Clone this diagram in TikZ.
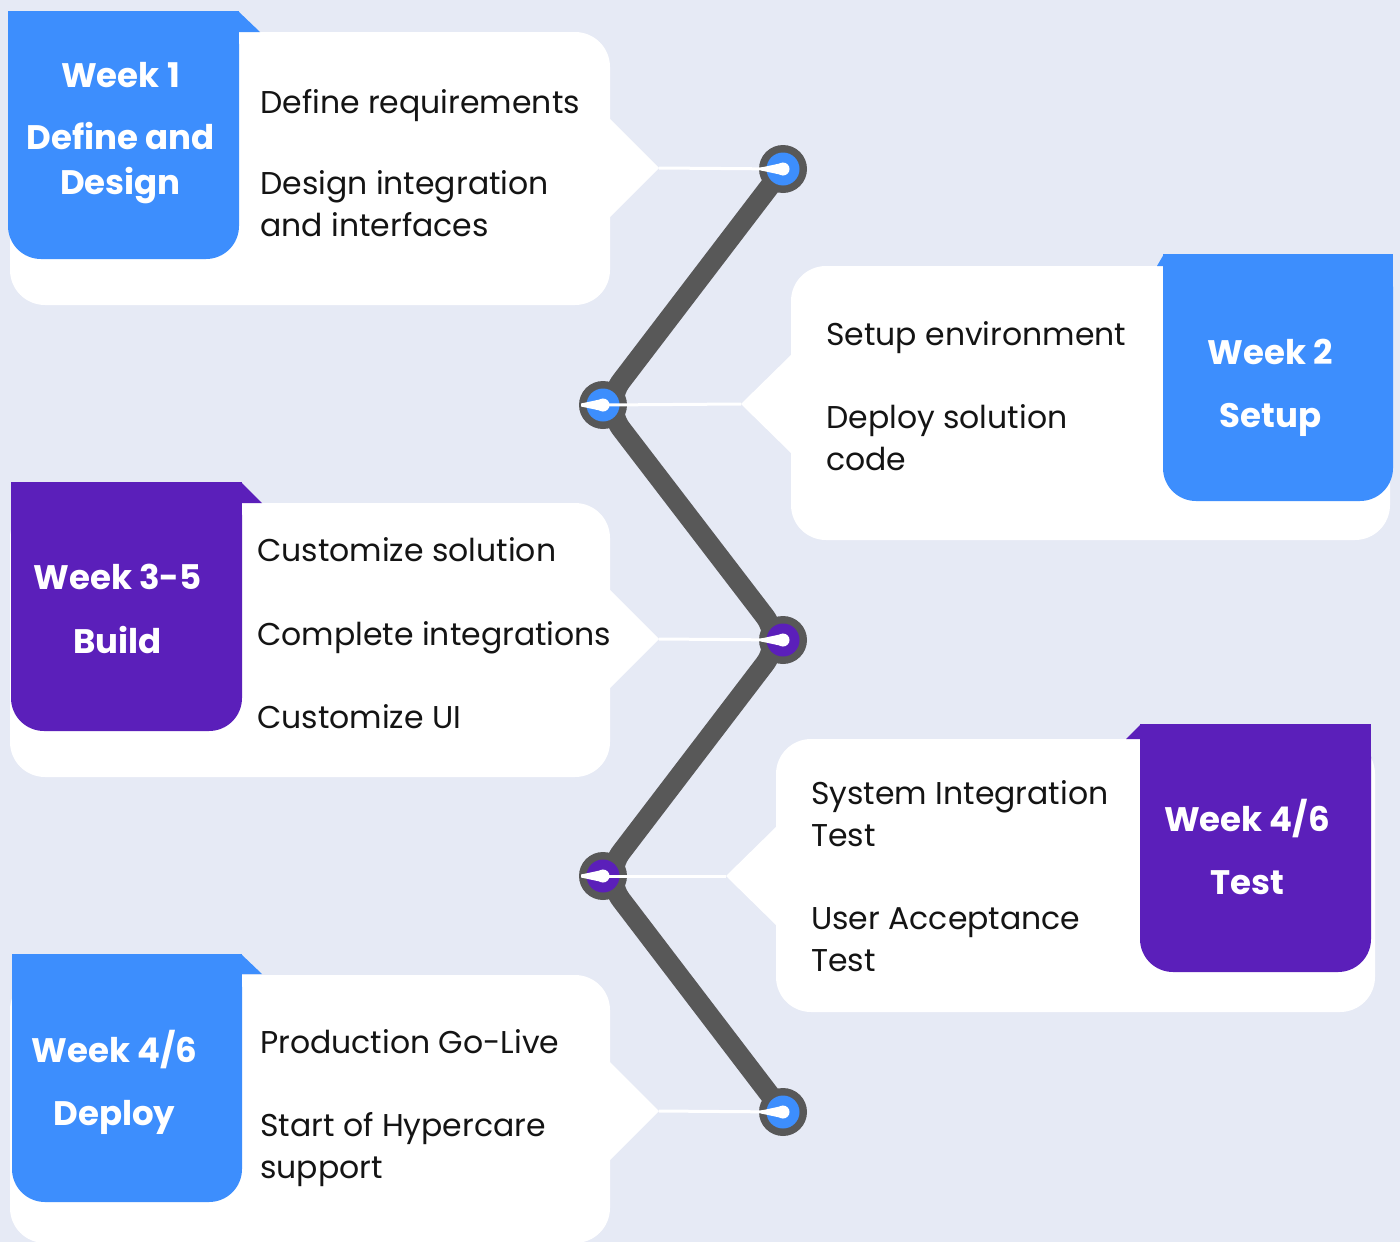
\documentclass[tikz,border=0pt]{standalone}
\usepackage{fontspec}
\setmainfont{Poppins}
\definecolor{bg}{HTML}{E6EAF5}
\definecolor{tabblue}{HTML}{3D8EFD}
\definecolor{tabpurple}{HTML}{5B1FBA}
\definecolor{darkline}{HTML}{585858}
\definecolor{ink}{HTML}{141414}
\tikzset{
  body/.style={anchor=base west, inner sep=0pt, text=ink, font=\fontsize{31.5}{38}\selectfont},
  head/.style={anchor=base, inner sep=0pt, text=white, font=\fontsize{34}{40}\selectfont\bfseries},
  card/.style={fill=white, rounded corners=35pt},
  ring/.style={circle, fill=darkline, minimum size=48pt, inner sep=0pt},
  wire/.style={draw=white, line width=3pt},
}
\begin{document}
\begin{tikzpicture}[x=1pt,y=-1pt]
\useasboundingbox (0,0) rectangle (1400,1242);
\fill[bg] (0,0) rectangle (1400,1242);

% ---------- white cards ----------
\fill[card] (10,32) rectangle (610,305);
\fill[white] (609,118) -- (659,168) -- (609,218) -- cycle;
\fill[card] (791,266) rectangle (1390,540);
\fill[white] (792,354) -- (741,404) -- (792,454) -- cycle;
\fill[card] (10,503) rectangle (610,777);
\fill[white] (609,589) -- (659,639) -- (609,689) -- cycle;
\fill[card] (776,739) rectangle (1375,1012);
\fill[white] (777,826) -- (726,876) -- (777,926) -- cycle;
\fill[card] (10,975) rectangle (610,1243);
\fill[white] (609,1061) -- (659,1111) -- (609,1161) -- cycle;

% ---------- tabs ----------
\fill[tabblue, rounded corners=33pt] (8,11) rectangle (239,259);
\fill[tabblue] (8,11) rectangle (239,60);
\fill[tabblue] (238,11) -- (260,32) -- (238,32) -- cycle;

\fill[tabblue, rounded corners=33pt] (1163,254) rectangle (1393,501);
\fill[tabblue] (1163,254) rectangle (1393,300);
\fill[tabblue] (1164,254) -- (1157,266) -- (1164,266) -- cycle;

\fill[tabpurple, rounded corners=33pt] (11,482) rectangle (242,731);
\fill[tabpurple] (11,482) rectangle (242,530);
\fill[tabpurple] (241,482) -- (262,503) -- (241,503) -- cycle;

\fill[tabpurple, rounded corners=33pt] (1140,724) rectangle (1371,972);
\fill[tabpurple] (1140,724) rectangle (1371,770);
\fill[tabpurple] (1141,724) -- (1126,739) -- (1141,739) -- cycle;

\fill[tabblue, rounded corners=33pt] (12,954) rectangle (242,1202);
\fill[tabblue] (12,954) rectangle (242,1000);
\fill[tabblue] (241,954) -- (262,974) -- (241,974) -- cycle;

% ---------- headers ----------
\node[head] (h1a) at (120.5,87) {Week 1};
\node[head] (h1b) at (120.5,149) {Define and};
\node[head] (h1c) at (120.5,194) {Design};
\node[head] (h2a) at (1270.5,364) {Week 2};
\node[head] (h2b) at (1270.5,427) {Setup};
\node[head] (h3a) at (117.5,589) {Week 3-5};
\node[head] (h3b) at (117.5,653) {Build};
\node[head] (h4a) at (1247,831) {Week 4/6};
\node[head] (h4b) at (1247,894) {Test};
\node[head] (h5a) at (114.5,1062) {Week 4/6};
\node[head] (h5b) at (114.5,1125) {Deploy};

% ---------- body text ----------
\node[body] (t1a) at (260,113) {Define requirements};
\node[body] (t1b) at (260,194) {Design integration};
\node[body] (t1c) at (260,236) {and interfaces};
\node[body] (t2a) at (826,345) {Setup environment};
\node[body] (t2b) at (826,428) {Deploy solution};
\node[body] (t2c) at (826,470) {code};
\node[body] (t3a) at (257,561) {Customize solution};
\node[body] (t3b) at (257,645) {Complete integrations};
\node[body] (t3c) at (257,728) {Customize UI};
\node[body] (t4a) at (811,804) {System Integration};
\node[body] (t4b) at (811,846) {Test};
\node[body] (t4c) at (811,929) {User Acceptance};
\node[body] (t4d) at (811,971) {Test};
\node[body] (t5a) at (260,1053) {Production Go-Live};
\node[body] (t5b) at (260,1136) {Start of Hypercare};
\node[body] (t5c) at (260,1178) {support};

% ---------- zigzag ----------
\coordinate (p1) at (783,169);
\coordinate (p2) at (603,405);
\coordinate (p3) at (783,640);
\coordinate (p4) at (603,876);
\coordinate (p5) at (783,1112);
\draw[darkline, line width=20pt, rounded corners=30pt] (p1) -- (p2) -- (p3) -- (p4) -- (p5);

\node[ring] (c1) at (p1) {};
\node[ring] (c2) at (p2) {};
\node[ring] (c3) at (p3) {};
\node[ring] (c4) at (p4) {};
\node[ring] (c5) at (p5) {};
\fill[tabblue] (c1.center) circle (16.5);
\fill[tabblue] (c2.center) circle (16.5);
\fill[tabpurple] (c3.center) circle (16.5);
\fill[tabpurple] (c4.center) circle (16.5);
\fill[tabblue] (c5.center) circle (16.5);

% ---------- white connectors ----------
\coordinate (k1) at (659,168);
\coordinate (k2) at (741,404);
\coordinate (k3) at (659,639);
\coordinate (k4) at (726,876);
\coordinate (k5) at (659,1111);
\draw[wire] (k1) -- (c1.center);
\draw[wire] (k2) -- (c2.center);
\draw[wire] (k3) -- (c3.center);
\draw[wire] (k4) -- (c4.center);
\draw[wire] (k5) -- (c5.center);
\foreach \c in {c1,c2,c3,c4,c5}{
  \fill[white] (\c.center) circle (6.5);
  \fill[white] ([shift={(-22,-1.5)}]\c.center) -- ([shift={(0,-6.2)}]\c.center) -- ([shift={(0,6.2)}]\c.center) -- ([shift={(-22,1.5)}]\c.center) -- cycle;
}
\end{tikzpicture}
\end{document}
